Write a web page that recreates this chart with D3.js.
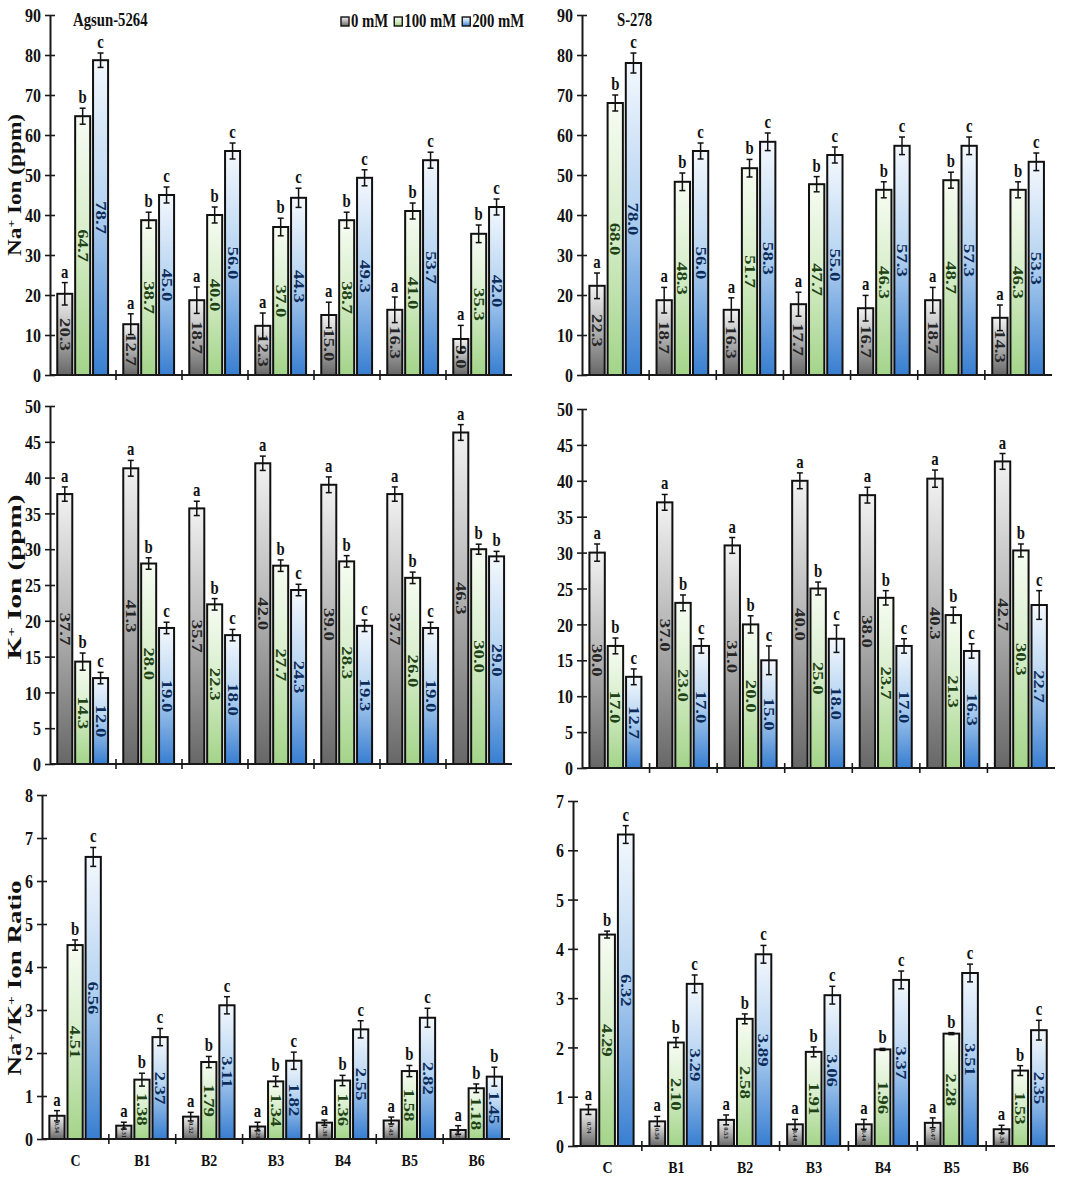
<!DOCTYPE html>
<html><head><meta charset="utf-8">
<script src="https://cdn.jsdelivr.net/npm/d3@7/dist/d3.min.js"></script>
<style>
body{margin:0;background:#fff}
text{font-family:"Liberation Serif","Times New Roman",serif;font-weight:bold}
</style>
</head><body>
<svg id="chart" width="1084" height="1182"></svg>
<script>
// ---------------- DATA ----------------
const categories = ["C","B1","B2","B3","B4","B5","B6"];
const seriesNames = ["0 mM","100 mM","200 mM"];

// Na+ Ion (ppm) – Agsun-5264
const naAgsun0 = [20.3,12.7,18.7,12.3,15.0,16.3,9.0];
const naAgsun100 = [64.7,38.7,40.0,37.0,38.7,41.0,35.3];
const naAgsun200 = [78.7,45.0,56.0,44.3,49.3,53.7,42.0];
const naAgsunErr0 = [2.8,2.6,3.3,3.2,3.2,3.2,3.4];
const naAgsunErr100 = [2.0,2.0,2.0,2.2,2.0,2.0,2.2];
const naAgsunErr200 = [1.8,2.0,2.0,2.4,2.0,2.0,2.0];
// Na+ Ion (ppm) – S-278
const naS2780 = [22.3,18.7,16.3,17.7,16.7,18.7,14.3];
const naS278100 = [68.0,48.3,51.7,47.7,46.3,48.7,46.3];
const naS278200 = [78.0,56.0,58.3,55.0,57.3,57.3,53.3];
const naS278Err0 = [3.2,3.2,3.0,3.0,3.2,3.2,3.2];
const naS278Err100 = [2.0,2.2,2.2,1.9,2.0,2.0,2.0];
const naS278Err200 = [2.5,2.0,2.2,2.0,2.2,2.2,2.2];
// K+ Ion (ppm) – Agsun-5264
const kAgsun0 = [37.7,41.3,35.7,42.0,39.0,37.7,46.3];
const kAgsun100 = [14.3,28.0,22.3,27.7,28.3,26.0,30.0];
const kAgsun200 = [12.0,19.0,18.0,24.3,19.3,19.0,29.0];
const kAgsunErr0 = [1.0,1.1,1.0,1.0,1.1,1.0,1.1];
const kAgsunErr100 = [1.2,0.8,0.8,0.8,0.8,0.8,0.7];
const kAgsunErr200 = [0.8,0.8,0.8,0.8,0.8,0.8,0.7];
// K+ Ion (ppm) – S-278
const kS2780 = [30.0,37.0,31.0,40.0,38.0,40.3,42.7];
const kS278100 = [17.0,23.0,20.0,25.0,23.7,21.3,30.3];
const kS278200 = [12.7,17.0,15.0,18.0,17.0,16.3,22.7];
const kS278Err0 = [1.2,1.1,1.1,1.1,1.1,1.2,1.1];
const kS278Err100 = [1.1,1.1,1.2,0.9,1.0,1.1,0.9];
const kS278Err200 = [1.1,1.0,2.0,1.9,1.0,1.0,2.0];
// Na+/K+ Ion Ratio – Agsun-5264
const ratioAgsun0 = [0.54,0.31,0.52,0.29,0.38,0.43,0.21];
const ratioAgsun100 = [4.51,1.38,1.79,1.34,1.36,1.58,1.18];
const ratioAgsun200 = [6.56,2.37,3.11,1.82,2.55,2.82,1.45];
const ratioAgsunErr0 = [0.12,0.08,0.10,0.10,0.06,0.08,0.10];
const ratioAgsunErr100 = [0.12,0.15,0.13,0.12,0.12,0.13,0.10];
const ratioAgsunErr200 = [0.22,0.20,0.20,0.20,0.20,0.22,0.22];
// Na+/K+ Ion Ratio – S-278
const ratioS2780 = [0.74,0.50,0.53,0.44,0.44,0.47,0.34];
const ratioS278100 = [4.29,2.10,2.58,1.91,1.96,2.28,1.53];
const ratioS278200 = [6.32,3.29,3.89,3.06,3.37,3.51,2.35];
const ratioS278Err0 = [0.10,0.10,0.10,0.10,0.10,0.10,0.08];
const ratioS278Err100 = [0.07,0.10,0.10,0.10,0.02,0.02,0.10];
const ratioS278Err200 = [0.18,0.18,0.18,0.18,0.18,0.18,0.20];

// significance letters
const letters0 = ["a","a","a","a","a","a","a"];
const letters100 = ["b","b","b","b","b","b","b"];
const letters200 = ["c","c","c","c","c","c","c"];
const letters200B6b = ["c","c","c","c","c","c","b"];

// tick values
const naTicks = [0,10,20,30,40,50,60,70,80,90];
const kTicks = [0,5,10,15,20,25,30,35,40,45,50];
const ratioAgsunTicks = [0,1,2,3,4,5,6,7,8];
const ratioS278Ticks = [0,1,2,3,4,5,6,7];

// ---------------- LAYOUT ----------------
const panels = [
  {left:50, right:512, top:15, bottom:375, ticks:naTicks, dec:1, xlab:false,
   vals:[naAgsun0,naAgsun100,naAgsun200], errs:[naAgsunErr0,naAgsunErr100,naAgsunErr200],
   lets:[letters0,letters100,letters200], ylab:["Na","+"," Ion (ppm)"], ylabY:185, ylabLen:142,
   title:"Agsun-5264", titleX:73, titleY:26, legend:true},
  {left:582, right:1052, top:15, bottom:375, ticks:naTicks, dec:1, xlab:false,
   vals:[naS2780,naS278100,naS278200], errs:[naS278Err0,naS278Err100,naS278Err200],
   lets:[letters0,letters100,letters200], title:"S-278", titleX:617, titleY:26},
  {left:50, right:512, top:406, bottom:764, ticks:kTicks, dec:1, xlab:false,
   vals:[kAgsun0,kAgsun100,kAgsun200], errs:[kAgsunErr0,kAgsunErr100,kAgsunErr200],
   lets:[letters0,letters100,letters200B6b], ylab:["K","+"," Ion (ppm)"], ylabY:577, ylabLen:165},
  {left:582, right:1055, top:409, bottom:768, ticks:kTicks, dec:1, xlab:false,
   vals:[kS2780,kS278100,kS278200], errs:[kS278Err0,kS278Err100,kS278Err200],
   lets:[letters0,letters100,letters200]},
  {left:42, right:510, top:795, bottom:1139, ticks:ratioAgsunTicks, dec:2, xlab:true, labY:1166,
   vals:[ratioAgsun0,ratioAgsun100,ratioAgsun200], errs:[ratioAgsunErr0,ratioAgsunErr100,ratioAgsunErr200],
   lets:[letters0,letters100,letters200B6b], ylab:["Na","+","/K","+"," Ion Ratio"], ylabY:978, ylabLen:195},
  {left:573, right:1055, top:801, bottom:1146, ticks:ratioS278Ticks, dec:2, xlab:true, labY:1173,
   vals:[ratioS2780,ratioS278100,ratioS278200], errs:[ratioS278Err0,ratioS278Err100,ratioS278Err200],
   lets:[letters0,letters100,letters200]}
];

const svg = d3.select("#chart");
const defs = svg.append("defs");
const grads = [
  {id:"g0", stops:[["0%","#f2f2f2"],["45%","#b8b8b8"],["100%","#676767"]]},
  {id:"g1", stops:[["0%","#f7fcf3"],["45%","#d8eecb"],["100%","#a3d489"]]},
  {id:"g2", stops:[["0%","#f4f8fd"],["45%","#b8d5f2"],["100%","#387ed1"]]}
];
grads.forEach(g=>{
  const lg = defs.append("linearGradient").attr("id",g.id).attr("x1",0).attr("y1",0).attr("x2",0).attr("y2",1);
  g.stops.forEach(s=>lg.append("stop").attr("offset",s[0]).attr("stop-color",s[1]));
});
const labelColors = ["#262626","#1f4216","#0e2c5a"];
const SX = 0.82; // horizontal squeeze of the original's lettering

panels.forEach(p=>{
  const g = svg.append("g");
  const maxV = p.ticks[p.ticks.length-1];
  const y = d3.scaleLinear().domain([0,maxV]).range([p.bottom,p.top]);
  const x0 = d3.scaleBand().domain(categories).range([p.left,p.right]).padding(0);
  const W = x0.bandwidth();
  const x1 = d3.scaleBand().domain([0,1,2]).range([W*0.11, W*0.88]).paddingInner(0.16);

  // y axis
  const ya = g.append("g").attr("transform",`translate(${p.left},0)`)
    .call(d3.axisLeft(y).tickValues(p.ticks).tickSizeOuter(0).tickSizeInner(5).tickFormat(d3.format("d")));
  ya.select(".domain").attr("stroke","#1a1a1a").attr("stroke-width",2);
  ya.selectAll(".tick line").attr("x1",5).attr("stroke","#1a1a1a").attr("stroke-width",1.6);
  ya.selectAll(".tick text").attr("fill","#111").style("font-size","19.5px")
    .attr("x",0).attr("dy","0.34em").attr("transform",`translate(-9,0) scale(${SX},1)`);

  // groups
  const bars = [];
  categories.forEach((c,i)=>{
    [0,1,2].forEach(s=>{
      bars.push({c, i, s, v:p.vals[s][i], e:p.errs[s][i], l:p.lets[s][i]});
    });
  });
  const bg = g.append("g");
  bg.selectAll("rect").data(bars).enter().append("rect")
    .attr("x",d=>x0(d.c)+x1(d.s))
    .attr("y",d=>y(d.v))
    .attr("width",x1.bandwidth())
    .attr("height",d=>y(0)-y(d.v))
    .attr("fill",d=>`url(#g${d.s})`)
    .attr("stroke","#111").attr("stroke-width",2);

  // value labels (rotated)
  bg.selectAll("text.val").data(bars).enter().append("text").attr("class","val")
    .attr("text-anchor","middle").attr("dominant-baseline","central")
    .attr("fill",d=>labelColors[d.s])
    .style("font-size",d=>(p.dec===2 && d.s===0) ? "6px" : "17px")
    .attr("transform",d=>{
      const cx = x0(d.c)+x1(d.s)+x1.bandwidth()/2;
      const cy = (y(d.v)+y(0))/2;
      return `translate(${cx},${cy}) rotate(90) scale(1.1,0.92)`;
    })
    .text(d=>d.v.toFixed(p.dec));

  // error bars
  const eg = g.append("g").attr("stroke","#111").attr("stroke-width",1.5);
  bars.forEach(d=>{
    const cx = x0(d.c)+x1(d.s)+x1.bandwidth()/2;
    const yt = y(d.v+d.e), yb = y(Math.max(0,d.v-d.e));
    eg.append("line").attr("x1",cx).attr("x2",cx).attr("y1",yt).attr("y2",yb);
    eg.append("line").attr("x1",cx-3).attr("x2",cx+3).attr("y1",yt).attr("y2",yt);
    eg.append("line").attr("x1",cx-3).attr("x2",cx+3).attr("y1",yb).attr("y2",yb);
  });

  // letters
  bg.selectAll("text.let").data(bars).enter().append("text").attr("class","let")
    .attr("text-anchor","middle").attr("fill","#111").style("font-size","18px")
    .attr("transform",d=>{
      const cx = x0(d.c)+x1(d.s)+x1.bandwidth()/2;
      return `translate(${cx},${y(d.v+d.e)-5}) scale(${SX},1)`;
    })
    .text(d=>d.l);

  // x axis
  const xg = g.append("g").attr("stroke","#1a1a1a");
  xg.append("line").attr("x1",p.left).attr("x2",p.right).attr("y1",p.bottom).attr("y2",p.bottom).attr("stroke-width",2);
  categories.slice(1).forEach(c=>{
    xg.append("line").attr("x1",x0(c)).attr("x2",x0(c)).attr("y1",p.bottom-5).attr("y2",p.bottom+5).attr("stroke-width",1.6);
  });
  if(p.xlab){
    g.selectAll("text.cat").data(categories).enter().append("text").attr("class","cat")
      .attr("text-anchor","middle").attr("fill","#111").style("font-size","17px")
      .attr("transform",c=>`translate(${x0(c)+W/2},${p.labY}) scale(${SX},1)`)
      .text(c=>c);
  }

  // y label
  if(p.ylab){
    const t = g.append("text").attr("text-anchor","middle").attr("fill","#111")
      .style("font-size","19px")
      .attr("transform",`translate(21,${p.ylabY}) rotate(-90)`)
      .attr("textLength",p.ylabLen).attr("lengthAdjust","spacingAndGlyphs");
    p.ylab.forEach(part=>{
      if(part==="+") t.append("tspan").attr("baseline-shift","super").style("font-size","11px").text(part);
      else t.append("tspan").text(part);
    });
  }
  // title
  if(p.title){
    g.append("text").attr("fill","#111").style("font-size","18px")
      .attr("transform",`translate(${p.titleX},${p.titleY}) scale(${SX},1)`).text(p.title);
  }
  // legend
  if(p.legend){
    let lx = 341;
    seriesNames.forEach((n,s)=>{
      g.append("rect").attr("x",lx).attr("y",17).attr("width",8).attr("height",9)
        .attr("fill",`url(#g${s})`).attr("stroke","#111").attr("stroke-width",1.4);
      const t = g.append("text").attr("fill","#111").style("font-size","18px")
        .attr("transform",`translate(${lx+10},27) scale(${SX},1)`).text(n);
      const w = t.node().getComputedTextLength()*SX;
      lx += 10 + w + 6;
    });
  }
});
</script>
</body></html>
